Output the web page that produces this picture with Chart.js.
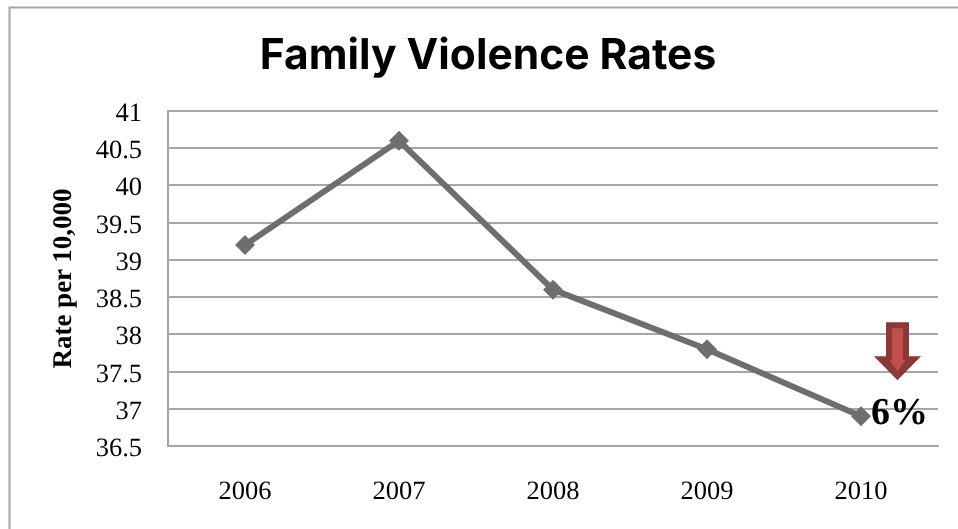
<!DOCTYPE html>
<html>
<head>
<meta charset="utf-8">
<script src="https://cdn.jsdelivr.net/npm/chart.js@4"></script>
<style>
  html, body { margin: 0; padding: 0; background: #fff; }
  #wrap { position: relative; width: 958px; height: 529px; overflow: hidden; }
</style>
</head>
<body>
<div id="wrap"><canvas id="rates" width="958" height="529"></canvas></div>
<script>
const years = ['2006', '2007', '2008', '2009', '2010'];
const rates = [39.2, 40.6, 38.6, 37.8, 36.9];
const yTicks = [36.5, 37, 37.5, 38, 38.5, 39, 39.5, 40, 40.5, 41];
const changeLabel = '6%';

const serif = '"Liberation Serif", serif';

// outer frame around the whole chart
const framePlugin = {
    id: 'frame',
    beforeDraw(chart) {
        const c = chart.ctx;
        // unhinted glyph spacing for every label drawn after this
        c.textRendering = 'geometricPrecision';
        c.save();
        c.strokeStyle = '#a6a6a6';
        c.lineWidth = 2;
        c.beginPath();
        c.moveTo(9.5, 540);
        c.lineTo(9.5, 7.5);
        c.lineTo(958, 7.5);
        c.stroke();
        c.restore();
    }
};

function fillPoly(c, ox, oy, pts, color) {
    c.beginPath();
    pts.forEach(([px, py], i) => {
        if (i === 0) c.moveTo(ox + px, oy + py);
        else c.lineTo(ox + px, oy + py);
    });
    c.closePath();
    c.fillStyle = color;
    c.fill();
}

// red down arrow and the 6% note beside the last point
const notePlugin = {
    id: 'note',
    afterDatasetsDraw(chart) {
        const c = chart.ctx;
        const x = chart.scales.x.getPixelForValue(4);
        const y = chart.scales.y.getPixelForValue(rates[4]);
        const ax = x + 36.5;
        const top = y - 94;
        c.save();
        fillPoly(c, ax, top, [[-11.5, 0], [11.5, 0], [11.5, 34], [23.5, 34], [0, 58], [-23.5, 34], [-11.5, 34]], '#8c3836');
        fillPoly(c, ax, top, [[-5.5, 6], [5.5, 6], [5.5, 38], [8, 38], [0, 49], [-8, 38], [-5.5, 38]], '#c0504d');
        c.fillStyle = '#000';
        c.font = 'bold 38px ' + serif;
        c.textAlign = 'left';
        c.textBaseline = 'alphabetic';
        c.fillText(changeLabel, x + 10, y + 8);
        c.restore();
    }
};

new Chart(document.getElementById('rates'), {
    type: 'line',
    data: {
        labels: years,
        datasets: [{
            data: rates,
            borderColor: '#6e6e6e',
            borderWidth: 6,
            tension: 0,
            pointStyle: 'rectRot',
            pointRadius: 10,
            pointBackgroundColor: '#6e6e6e',
            pointBorderColor: '#6e6e6e',
            pointBorderWidth: 0
        }]
    },
    options: {
        responsive: false,
        animation: false,
        layout: { padding: { left: 38, right: 20, top: 0, bottom: 0 } },
        plugins: {
            legend: { display: false },
            tooltip: { enabled: false },
            title: {
                display: true,
                text: 'Family Violence Rates',
                color: '#000',
                font: { family: 'Inter', size: 42.5, weight: 'bold' },
                padding: { top: 31, bottom: 29 }
            }
        },
        scales: {
            x: {
                offset: true,
                afterFit(axis) { axis.height = 83; },
                grid: { display: false, drawTicks: false },
                border: { color: '#a6a6a6', width: 2 },
                ticks: {
                    color: '#000',
                    padding: 30,
                    maxRotation: 0,
                    font: { family: serif, size: 26.5 }
                }
            },
            y: {
                min: 36.5,
                max: 41,
                afterBuildTicks(axis) {
                    axis.ticks = yTicks.map(v => ({ value: v }));
                },
                afterFit(axis) { axis.width = 130; },
                grid: { color: '#a6a6a6', lineWidth: 2, drawTicks: false },
                border: { color: '#a6a6a6', width: 2 },
                ticks: {
                    color: '#000',
                    padding: 26,
                    labelOffset: 3,
                    font: { family: serif, size: 26.5 },
                    callback: v => String(v)
                },
                title: {
                    display: true,
                    text: 'Rate per 10,000',
                    color: '#000',
                    padding: { top: 10, bottom: 0 },
                    font: { family: serif, size: 27, weight: 'bold' }
                }
            }
        }
    },
    plugins: [framePlugin, notePlugin]
});
</script>
</body>
</html>
